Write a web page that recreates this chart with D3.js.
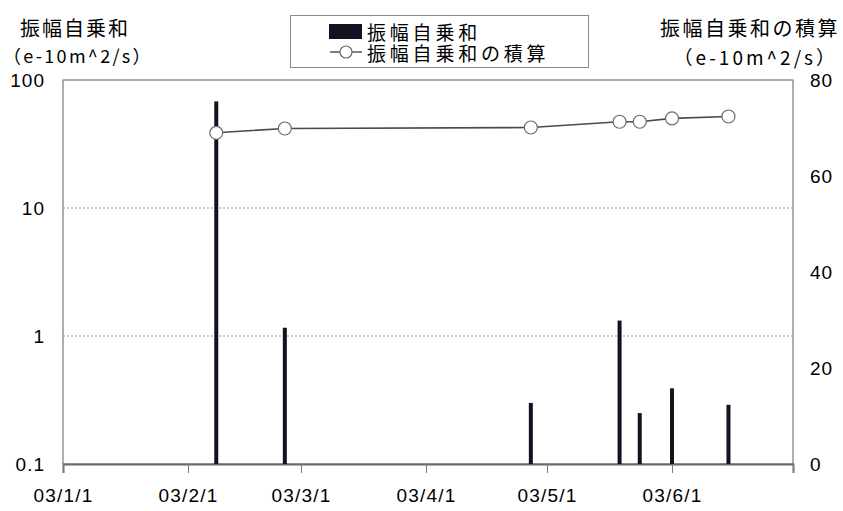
<!DOCTYPE html>
<html>
<head>
<meta charset="utf-8">
<script src="https://cdn.jsdelivr.net/npm/d3@7/dist/d3.min.js"></script>
<style>
  html, body { margin: 0; padding: 0; background: #fff; }
  svg { display: block; }
  .jp { font-family: "Noto Sans CJK JP", "Noto Sans CJK SC", sans-serif; fill: #000; }
  .num { font-family: "Liberation Sans", Arial, sans-serif; fill: #000; }
</style>
</head>
<body>
<svg id="chart" width="843" height="511"></svg>
<script>
// Event dates, amplitude squared sums (log, left axis) and running total (right axis)
const eventDates = ["2003-02-08", "2003-02-25", "2003-04-27", "2003-05-19", "2003-05-24", "2003-06-01", "2003-06-15"];
const amplitudeSum = [68, 1.16, 0.30, 1.32, 0.25, 0.39, 0.29];
const cumulativeSum = [69.0, 69.9, 70.1, 71.3, 71.3, 72.0, 72.4];

const monthTicks = ["2003-01-01", "2003-02-01", "2003-03-01", "2003-04-01", "2003-05-01", "2003-06-01", "2003-07-01"];
const monthLabels = ["03/1/1", "03/2/1", "03/3/1", "03/4/1", "03/5/1", "03/6/1", ""];
const leftTicks = [0.1, 1, 10, 100];
const leftTickLabels = ["0.1", "1", "10", "100"];
const gridValues = [1, 10];
const rightTicks = [0, 20, 40, 60, 80];

const titleLeft = "振幅自乗和";
const titleRight = "振幅自乗和の積算";
const unitText = "（e-10m^2/s）";
const legendLabels = ["振幅自乗和", "振幅自乗和の積算"];

const parse = d3.timeParse("%Y-%m-%d");
const svg = d3.select("#chart");

const plot = { left: 63, right: 793, top: 80, bottom: 464 };

const x = d3.scaleTime()
  .domain([parse(monthTicks[0]), parse(monthTicks[monthTicks.length - 1])])
  .range([plot.left, plot.right]);
const yLeft = d3.scaleLog().domain([0.1, 100]).range([plot.bottom, plot.top]);
const yRight = d3.scaleLinear().domain([0, 80]).range([plot.bottom, plot.top]);

// dotted gridlines at 1 and 10
svg.append("g").selectAll("line").data(gridValues).join("line")
  .attr("x1", plot.left).attr("x2", plot.right)
  .attr("y1", d => yLeft(d)).attr("y2", d => yLeft(d))
  .attr("stroke", "#9a9a9a").attr("stroke-width", 1)
  .attr("stroke-dasharray", "2,2");

// plot frame
svg.append("rect")
  .attr("x", plot.left).attr("y", plot.top)
  .attr("width", plot.right - plot.left).attr("height", plot.bottom - plot.top)
  .attr("fill", "none").attr("stroke", "#7a7a7a").attr("stroke-width", 1.2);

// bottom axis with month ticks
const xAxis = d3.axisBottom(x)
  .tickValues(monthTicks.map(parse))
  .tickSize(9)
  .tickPadding(16)
  .tickFormat((d, i) => monthLabels[i]);
const gx = svg.append("g").attr("transform", `translate(0,${plot.bottom})`).call(xAxis);
gx.select(".domain").attr("stroke", "#6a6a6a").attr("stroke-width", 2);
gx.selectAll(".tick line").attr("stroke", "#7a7a7a").attr("stroke-width", 1);
gx.selectAll(".tick text")
  .attr("class", "num")
  .attr("font-size", 19)
  .attr("letter-spacing", 1.2)
  .attr("fill", "#000");

// left log axis labels
const yAxisL = d3.axisLeft(yLeft).tickValues(leftTicks).tickSize(0).tickPadding(18)
  .tickFormat((d, i) => leftTickLabels[i]);
const gyl = svg.append("g").attr("transform", `translate(${plot.left},0)`).call(yAxisL);
gyl.select(".domain").remove();
gyl.selectAll(".tick text").attr("class", "num").attr("font-size", 19)
  .attr("letter-spacing", 1).attr("fill", "#000");

// right linear axis labels
const yAxisR = d3.axisRight(yRight).tickValues(rightTicks).tickSize(0).tickPadding(17);
const gyr = svg.append("g").attr("transform", `translate(${plot.right},0)`).call(yAxisR);
gyr.select(".domain").remove();
gyr.selectAll(".tick text").attr("class", "num").attr("font-size", 19)
  .attr("letter-spacing", 1).attr("fill", "#000");

// bars (log scale from the 0.1 baseline)
const barW = 4;
svg.append("g").selectAll("rect").data(eventDates).join("rect")
  .attr("x", d => x(parse(d)) - barW / 2)
  .attr("y", (d, i) => yLeft(amplitudeSum[i]))
  .attr("width", barW)
  .attr("height", (d, i) => plot.bottom - yLeft(amplitudeSum[i]))
  .attr("fill", "#121220");

// running total line with hollow markers
const pts = eventDates.map((d, i) => [x(parse(d)), yRight(cumulativeSum[i])]);
svg.append("path")
  .attr("d", d3.line()(pts))
  .attr("fill", "none").attr("stroke", "#4a4a4a").attr("stroke-width", 1.6);
svg.append("g").selectAll("circle").data(pts).join("circle")
  .attr("cx", d => d[0]).attr("cy", d => d[1]).attr("r", 6.5)
  .attr("fill", "#fff").attr("stroke", "#6a6a6a").attr("stroke-width", 1.2);

// axis titles
svg.append("text").attr("class", "jp")
  .attr("x", 20).attr("y", 27).attr("dominant-baseline", "central")
  .attr("font-size", 20).attr("letter-spacing", 2).text(titleLeft);
svg.append("text").attr("class", "jp")
  .attr("x", 3).attr("y", 55).attr("dominant-baseline", "central")
  .attr("font-size", 18).attr("letter-spacing", 2.3).text(unitText);
svg.append("text").attr("class", "jp")
  .attr("x", 840).attr("y", 27).attr("dominant-baseline", "central").attr("text-anchor", "end")
  .attr("font-size", 20).attr("letter-spacing", 2.5).text(titleRight);
svg.append("text").attr("class", "jp")
  .attr("x", 838).attr("y", 56).attr("dominant-baseline", "central").attr("text-anchor", "end")
  .attr("font-size", 19).attr("letter-spacing", 3).text(unitText);

// legend
const lg = svg.append("g");
lg.append("rect").attr("x", 290.5).attr("y", 15.5).attr("width", 298).attr("height", 52)
  .attr("fill", "#fff").attr("stroke", "#8a8a8a").attr("stroke-width", 1);
lg.append("rect").attr("x", 329).attr("y", 24).attr("width", 33).attr("height", 15).attr("fill", "#121220");
lg.append("line").attr("x1", 330).attr("x2", 362).attr("y1", 52).attr("y2", 52)
  .attr("stroke", "#4a4a4a").attr("stroke-width", 1.4);
lg.append("circle").attr("cx", 346).attr("cy", 52).attr("r", 6)
  .attr("fill", "#fff").attr("stroke", "#6a6a6a").attr("stroke-width", 1.2);
lg.selectAll("text.lbl").data(legendLabels).join("text")
  .attr("class", "jp lbl")
  .attr("x", 367).attr("y", (d, i) => 31.5 + i * 21)
  .attr("dominant-baseline", "central")
  .attr("font-size", 19).attr("letter-spacing", 3.8)
  .text(d => d);
</script>
</body>
</html>
